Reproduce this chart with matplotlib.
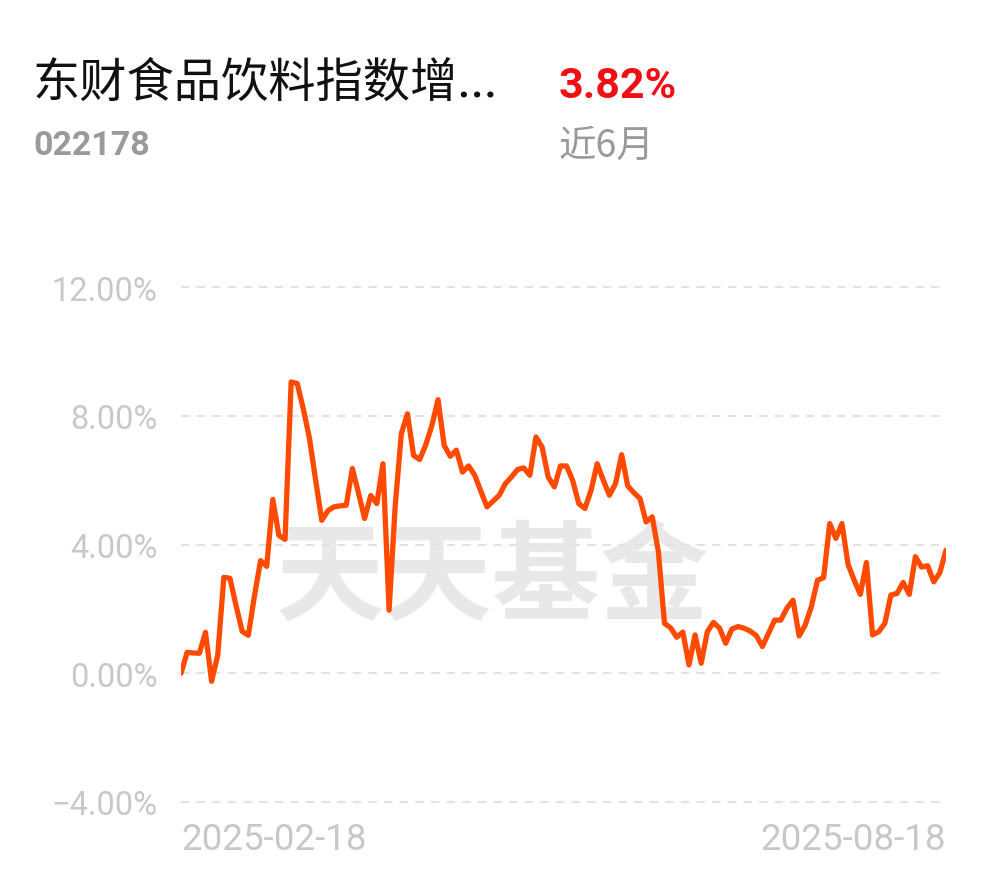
import matplotlib
matplotlib.use('Agg')
import matplotlib.pyplot as plt

# fund info
fund_name = '东财食品饮料指数增...'
fund_code = '022178'
period_return = '3.82%'
period_label = '近6月'
watermark = '天天基金'

# cumulative return (%) per trading day
returns = [0.00, 0.65, 0.63, 0.62, 1.27, -0.25, 0.56, 2.98, 2.95, 2.10,
           1.30, 1.18, 2.40, 3.50, 3.32, 5.40, 4.28, 4.16, 9.05, 9.00,
           8.20, 7.29, 6.00, 4.75, 5.05, 5.17, 5.20, 5.22, 6.36, 5.60,
           4.81, 5.52, 5.27, 6.51, 1.96, 5.20, 7.44, 8.06, 6.77, 6.64,
           7.10, 7.70, 8.50, 7.08, 6.74, 6.93, 6.25, 6.44, 6.15, 5.65,
           5.17, 5.35, 5.53, 5.89, 6.10, 6.33, 6.38, 6.15, 7.34, 7.03,
           6.10, 5.79, 6.44, 6.44, 5.99, 5.27, 5.12, 5.68, 6.51, 6.00,
           5.53, 5.89, 6.79, 5.82, 5.61, 5.43, 4.70, 4.86, 3.78, 1.55,
           1.41, 1.12, 1.28, 0.26, 1.19, 0.31, 1.29, 1.58, 1.40, 0.93,
           1.37, 1.45, 1.40, 1.31, 1.17, 0.83, 1.24, 1.65, 1.65, 2.02,
           2.27, 1.16, 1.50, 2.07, 2.89, 2.97, 4.65, 4.19, 4.65, 3.38,
           2.89, 2.45, 3.44, 1.19, 1.29, 1.55, 2.43, 2.48, 2.82, 2.45,
           3.62, 3.30, 3.34, 2.84, 3.13, 3.82]
date_labels = ['2025-02-18', '2025-08-18']
y_ticks = [-4, 0, 4, 8, 12]

cjk = ['Noto Sans CJK SC', 'DejaVu Sans']
line_color = '#FF4A00'
label_gray = '#C8C8C8'

fig = plt.figure(figsize=(9.9, 8.78), dpi=100)
ax = fig.add_axes([181 / 990, 1 - 803 / 878, 765 / 990, 515 / 878])
ax.set_facecolor('none')

x = list(range(len(returns)))
ax.plot(x, returns, color=line_color, lw=3.8, solid_joinstyle='round',
        solid_capstyle='round', zorder=3)

ax.set_xlim(0, len(returns) - 1)
ax.set_ylim(y_ticks[0], y_ticks[-1])
for v in y_ticks:
    ax.axhline(v, color='#E2E2E2', lw=1.5, ls=(0, (4, 3.5)), clip_on=False, zorder=1)

ax.set_yticks(y_ticks)
ax.set_yticklabels([f'{v:.2f}%'.replace('-', '\u2212') for v in y_ticks],
                   family='Roboto', fontsize=23.5, color=label_gray)
ax.set_xticks([0, len(returns) - 1])
ax.set_xticklabels(date_labels, family='Roboto', fontsize=26.5, color=label_gray)
xl = ax.get_xticklabels()
xl[0].set_ha('left')
xl[1].set_ha('right')
ax.tick_params(axis='y', length=0, pad=17)
ax.tick_params(axis='x', length=0, pad=14)
for s in ax.spines.values():
    s.set_visible(False)

ax.text(0.408, 0.432, watermark, transform=ax.transAxes, family=cjk,
        fontsize=78, fontweight='bold', color='#E8E8E8', ha='center',
        va='center', zorder=0)

fig.text(33 / 990, 1 - 84 / 878, fund_name, family=cjk, fontsize=34,
         color='#111111', va='center', ha='left')
fig.text(559 / 990, 1 - 87 / 878, period_return, family='Roboto', fontsize=31,
         fontweight='bold', color='#F00F14', va='center', ha='left')
fig.text(33 / 990, 1 - 146 / 878, fund_code, family='Roboto', fontsize=24.5,
         fontweight='bold', color='#9A9A9A', va='center', ha='left')
fig.text(559 / 990, 1 - 146 / 878, period_label, family=cjk, fontsize=27,
         color='#9A9A9A', va='center', ha='left')

fig.savefig('out.png', dpi=100)
